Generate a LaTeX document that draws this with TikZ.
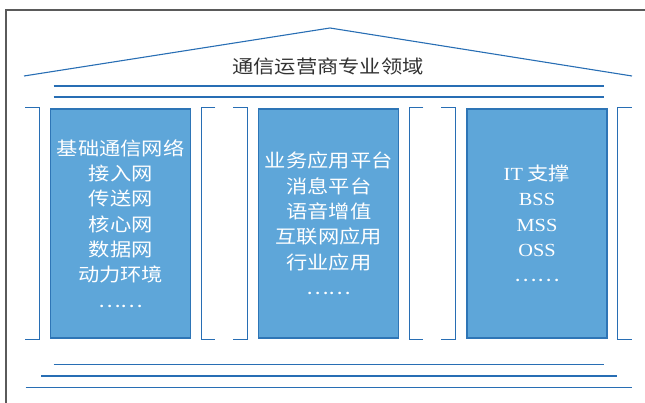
\documentclass[tikz,border=0pt]{standalone}
\usepackage{fontspec}
\setmainfont{Liberation Serif}[FakeStretch=1.1]
\newfontfamily\cjk{Noto Sans CJK SC}[FakeStretch=1.15]
\definecolor{boxfill}{RGB}{94,166,217}
\definecolor{boxline}{RGB}{46,117,182}
\definecolor{ln}{RGB}{40,110,180}
\definecolor{framegray}{RGB}{90,90,90}
\definecolor{titlecol}{RGB}{50,50,50}
\begin{document}
\begin{tikzpicture}[x=1pt,y=-1pt,
  pillar/.style={draw=boxline, line width=1.2pt, fill=boxfill, minimum width=140pt,
    minimum height=229pt, inner sep=0pt, text=white, align=center,
    font=\cjk\fontsize{18.5}{25.3}\selectfont},
  bline/.style={draw=ln, line width=1.1pt},
  brk/.style={draw=ln, line width=1.1pt},
]
\useasboundingbox (0,0) rectangle (645,403);
\draw[framegray, line width=1.2pt] (6,403) -- (6,10) -- (645,10);
% roof
\coordinate (rl) at (24,76);
\coordinate (apex) at (330,28);
\coordinate (rr) at (632,76);
\draw[bline] (rl) -- (apex) -- (rr);
\node[text=titlecol, font=\cjk\fontsize{18.5}{20}\selectfont] (title) at (328,66.5) {通信运营商专业领域};
% top lines
\draw[bline] (53.5,86) -- (603.7,86);
\draw[bline] (53.5,97) -- (603.7,97);
% pillars
\node[pillar] (b1) at (120.7,223.5) {基础通信网络\\接入网\\传送网\\核心网\\数据网\\动力环境\\……};
\node[pillar] (b2) at (328.8,223.5) {业务应用平台\\消息平台\\语音增值\\互联网应用\\行业应用\\……};
\node[pillar] (b3) at (537,223.5) {{\rmfamily IT} 支撑\\{\rmfamily BSS}\\{\rmfamily MSS}\\{\rmfamily OSS}\\……};
% brackets
\foreach \b in {b1,b2,b3}{
  \draw[brk] ([xshift=-25pt,yshift=1pt]\b.north west) -- ([xshift=-11pt,yshift=1pt]\b.north west)
     -- ([xshift=-11pt,yshift=-0.5pt]\b.south west) -- ([xshift=-25pt,yshift=-0.5pt]\b.south west);
  \draw[brk] ([xshift=24pt,yshift=1pt]\b.north east) -- ([xshift=10pt,yshift=1pt]\b.north east)
     -- ([xshift=10pt,yshift=-0.5pt]\b.south east) -- ([xshift=24pt,yshift=-0.5pt]\b.south east);
}
% base lines
\draw[bline] (53.5,364.3) -- (603.7,364.3);
\draw[bline] (41,376) -- (616.5,376);
\draw[bline] (25.5,387.3) -- (631.7,387.3);
\end{tikzpicture}
\end{document}
